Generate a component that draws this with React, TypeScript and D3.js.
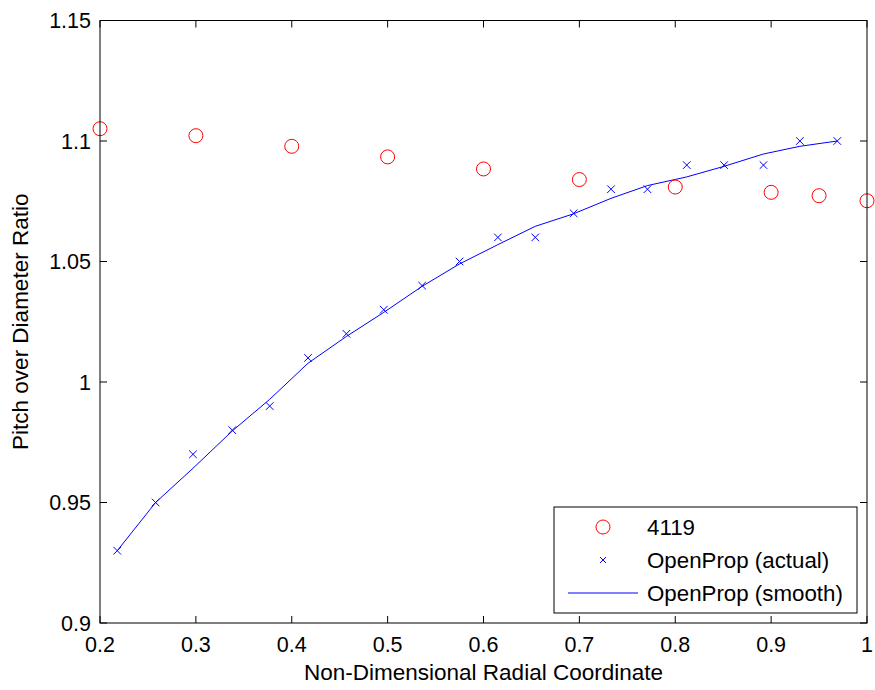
import React from "react";
import * as d3 from "d3";

const refX = [0.2, 0.3, 0.4, 0.5, 0.6, 0.7, 0.8, 0.9, 0.95, 1.0];
const refY = [1.1051, 1.1022, 1.0978, 1.0934, 1.0884, 1.084, 1.0809, 1.0787, 1.0773, 1.0752];

const opX = [0.218, 0.258, 0.297, 0.338, 0.377, 0.417, 0.457, 0.496, 0.536, 0.575, 0.615, 0.654, 0.694, 0.733, 0.771, 0.812, 0.851, 0.892, 0.93, 0.969];
const actualY = [0.93, 0.95, 0.97, 0.98, 0.99, 1.01, 1.02, 1.03, 1.04, 1.05, 1.06, 1.06, 1.07, 1.08, 1.08, 1.09, 1.09, 1.09, 1.1, 1.1];
const smoothY = [0.93, 0.95, 0.9642, 0.9797, 0.9928, 1.0078, 1.0189, 1.0289, 1.0397, 1.049, 1.057, 1.0646, 1.0698, 1.0762, 1.0815, 1.0851, 1.0895, 1.0946, 1.0978, 1.1];

const xTicks = [0.2, 0.3, 0.4, 0.5, 0.6, 0.7, 0.8, 0.9, 1.0];
const yTicks = [0.9, 0.95, 1.0, 1.05, 1.1, 1.15];
const legendLabels = ["4119", "OpenProp (actual)", "OpenProp (smooth)"];

const W = 875;
const H = 690;
const L = 100, R = 867, T = 20.5, B = 623;
const FONT = "'Liberation Sans', Arial, Helvetica, sans-serif";

export default function App() {
  const x = d3.scaleLinear().domain([0.2, 1.0]).range([L, R]);
  const y = d3.scaleLinear().domain([0.9, 1.15]).range([B, T]);
  const line = d3.line<number>().x((_, i) => x(opX[i])).y((d) => y(d));
  const fmt = (v: number) => d3.format("")(+v.toFixed(2));
  const tl = 7;
  const xm = 3.8;

  const legL = 554, legT = 507, legR = 857, legB = 613;
  const rows = [527, 560, 593];
  const mx = 603;

  return (
    <svg width={W} height={H} style={{ position: "absolute", left: 0, top: 0, background: "#fff" }} fontFamily={FONT}>
      <rect x={0} y={0} width={W} height={H} fill="#fff" />
      <path d={line(smoothY) || ""} fill="none" stroke="#0000ff" strokeWidth={1} />
      {actualY.map((v, i) => {
        const cx = x(opX[i]), cy = y(v);
        return (
          <path key={"x" + i} d={`M${cx - xm},${cy - xm}L${cx + xm},${cy + xm}M${cx - xm},${cy + xm}L${cx + xm},${cy - xm}`} stroke="#0000ff" strokeWidth={1} />
        );
      })}
      {refY.map((v, i) => (
        <circle key={"c" + i} cx={x(refX[i])} cy={y(v)} r={7} fill="none" stroke="#ff0000" strokeWidth={1} />
      ))}
      <rect x={L} y={T} width={R - L} height={B - T} fill="none" stroke="#000" strokeWidth={1} />
      {xTicks.map((t) => (
        <g key={"xt" + t}>
          <line x1={x(t)} x2={x(t)} y1={B} y2={B - tl} stroke="#000" />
          <line x1={x(t)} x2={x(t)} y1={T} y2={T + tl} stroke="#000" />
          <text x={x(t)} y={652} fontSize={21.5} textAnchor="middle" fill="#000">{fmt(t)}</text>
        </g>
      ))}
      {yTicks.map((t) => (
        <g key={"yt" + t}>
          <line x1={L} x2={L + tl} y1={y(t)} y2={y(t)} stroke="#000" />
          <line x1={R} x2={R - tl} y1={y(t)} y2={y(t)} stroke="#000" />
          <text x={91} y={y(t)} dy="0.36em" fontSize={21.5} textAnchor="end" fill="#000">{fmt(t)}</text>
        </g>
      ))}
      <text x={(L + R) / 2} y={680} fontSize={22.5} textAnchor="middle" fill="#000">Non-Dimensional Radial Coordinate</text>
      <text transform={`translate(28,${(T + B) / 2}) rotate(-90)`} fontSize={22.5} textAnchor="middle" fill="#000">Pitch over Diameter Ratio</text>
      <rect x={legL} y={legT} width={legR - legL} height={legB - legT} fill="#fff" stroke="#000" strokeWidth={1} />
      <circle cx={mx} cy={rows[0]} r={7} fill="none" stroke="#ff0000" strokeWidth={1} />
      <path d={`M${mx - 3},${rows[1] - 3}L${mx + 3},${rows[1] + 3}M${mx - 3},${rows[1] + 3}L${mx + 3},${rows[1] - 3}`} stroke="#0000ff" strokeWidth={1} />
      <line x1={568} x2={638} y1={rows[2]} y2={rows[2]} stroke="#0000ff" strokeWidth={1} />
      {legendLabels.map((s, i) => (
        <text key={s} x={647} y={rows[i]} dy="0.36em" fontSize={22.3} fill="#000">{s}</text>
      ))}
    </svg>
  );
}
